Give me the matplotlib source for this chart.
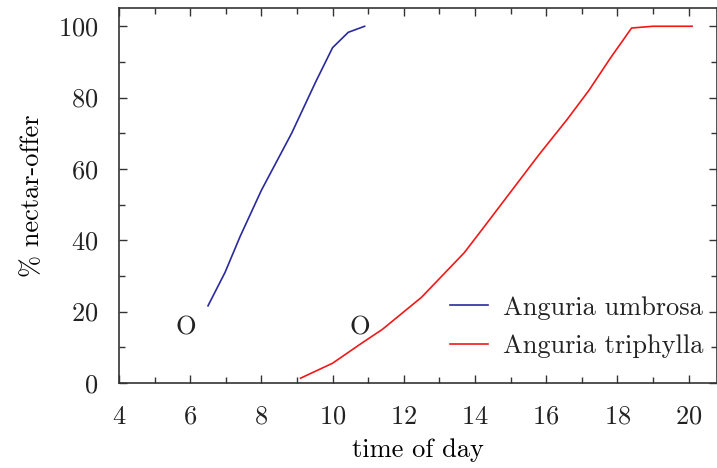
import matplotlib
matplotlib.use("Agg")
import matplotlib.pyplot as plt
from matplotlib.ticker import MultipleLocator

plt.rcParams["font.family"] = ["cmr10", "DejaVu Serif"]
plt.rcParams["mathtext.fontset"] = "cm"
plt.rcParams["axes.formatter.use_mathtext"] = True
plt.rcParams["text.color"] = "#222222"
plt.rcParams["xtick.labelcolor"] = "#222222"
plt.rcParams["ytick.labelcolor"] = "#222222"

FS = 19

# values
umbrosa_t = [6.5, 6.98, 7.4, 8.0, 8.85, 9.53, 10.0, 10.44, 10.9]
umbrosa_pct = [21.6, 31.0, 41.0, 54.0, 70.0, 84.5, 94.0, 98.3, 100.0]

triphylla_t = [9.1, 10.0, 10.8, 11.4, 12.5, 13.7, 14.2, 15.0, 15.8, 16.6,
               17.2, 17.8, 18.4, 19.0, 20.1]
triphylla_pct = [1.3, 5.5, 11.0, 15.0, 24.0, 36.5, 43.0, 53.5, 64.0, 74.0,
                 82.0, 91.0, 99.5, 100.0, 100.0]

# "O" markers (opening time)
open_t = [5.88, 10.77]
open_y = [15.6, 15.6]

fig = plt.figure(figsize=(7.17, 4.68), dpi=100)
ax = fig.add_axes([0.166, 0.182, 0.834, 0.800])

ax.plot(umbrosa_t, umbrosa_pct, color="#2a2a9e", lw=1.2, label="Anguria umbrosa")
ax.plot(triphylla_t, triphylla_pct, color="#f01818", lw=1.2, label="Anguria triphylla")

for t, y in zip(open_t, open_y):
    ax.text(t, y, "O", fontsize=FS, ha="center", va="center")

ax.set_xlim(4, 20.8)
ax.set_ylim(0, 105)
ax.xaxis.set_major_locator(MultipleLocator(2))
ax.xaxis.set_minor_locator(MultipleLocator(1))
ax.yaxis.set_major_locator(MultipleLocator(20))
ax.yaxis.set_minor_locator(MultipleLocator(10))
ax.tick_params(which="both", direction="in", top=True, right=True,
               color="#333333", labelsize=FS)
ax.tick_params(which="major", length=6, width=1.0)
ax.tick_params(axis="x", which="major", pad=16)
ax.tick_params(axis="y", which="major", pad=15)
ax.tick_params(which="minor", length=4, width=1.0)
for s in ax.spines.values():
    s.set_color("#333333")
    s.set_linewidth(1.2)

ax.set_xlabel("time of day", fontsize=FS, labelpad=7)
ax.set_ylabel("% nectar-offer", fontsize=FS, labelpad=10)

ax.legend(loc="upper left", frameon=False, fontsize=FS, handlelength=1.45,
          handletextpad=0.55, labelspacing=0.55, borderpad=0, borderaxespad=0,
          bbox_to_anchor=(450 / 717, 1 - 296 / 468), bbox_transform=fig.transFigure)

fig.savefig("out.png", dpi=100)
